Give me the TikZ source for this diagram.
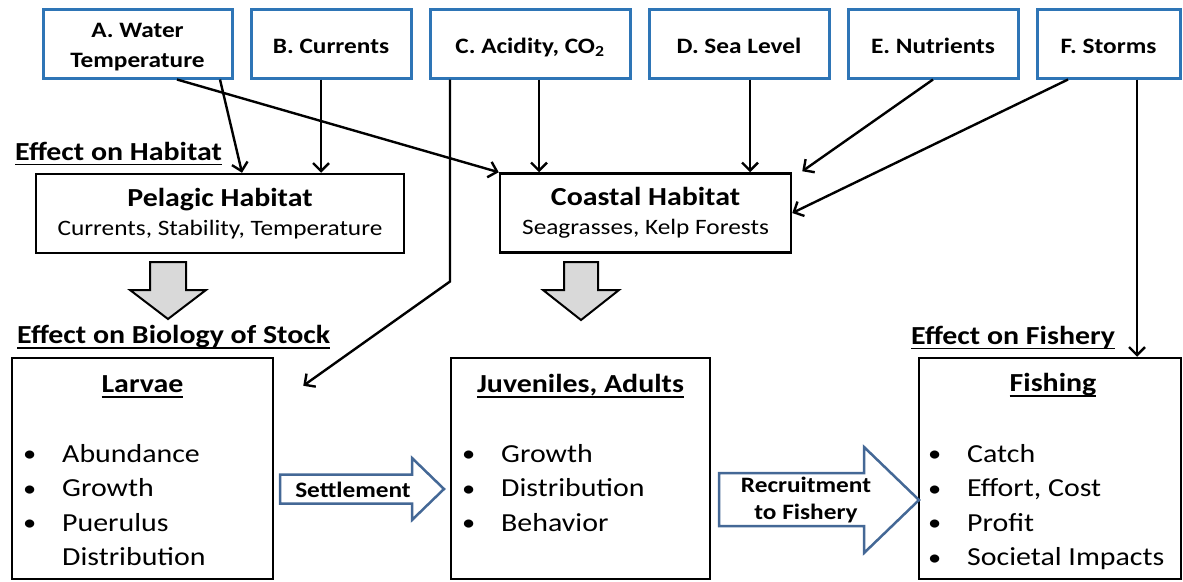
\documentclass[tikz,border=0pt]{standalone}
\usepackage{fontspec}
\setmainfont{Carlito}[FakeStretch=1.15]
\usetikzlibrary{arrows.meta, positioning, calc}
\definecolor{factorblue}{RGB}{46,117,182}
\definecolor{flowblue}{RGB}{68,104,150}
\definecolor{blockgray}{RGB}{217,217,217}
\newsavebox{\hdbox}
\newcommand{\hdline}[1]{\sbox{\hdbox}{#1}\rlap{\rule[-5.4pt]{\wd\hdbox}{1.8pt}}\usebox{\hdbox}}
\newcommand{\bul}{\makebox[39pt][l]{\raisebox{0.5pt}{\fontsize{23}{23}\selectfont\textbullet}}}
\tikzset{
  factor/.style={
    rectangle, draw=factorblue, line width=3pt, fill=white,
    minimum height=69pt, inner sep=0pt,
    align=center, font=\bfseries\fontsize{22}{30}\selectfont
  },
  oneline/.style={text height=19pt, text depth=0pt},
  habitat/.style={
    rectangle, draw=black, line width=2.5pt,
    minimum height=79pt, inner sep=0pt,
    align=center, font=\fontsize{22}{29}\selectfont
  },
  stage/.style={
    rectangle, draw=black, line width=2.5pt,
    minimum height=221pt, inner sep=0pt
  },
  sechead/.style={inner sep=0pt, anchor=base west, font=\bfseries\fontsize{26}{31}\selectfont},
  stagehead/.style={inner sep=0pt, anchor=base, font=\bfseries\fontsize{26}{31}\selectfont},
  itemlist/.style={inner sep=0pt, anchor=base west, font=\fontsize{26}{34.5}\selectfont},
  link/.style={line width=2.4pt, -{Straight Barb[length=8pt,width=16pt]}},
  blockdown/.style={draw=black, line width=2pt, fill=blockgray},
  flowarrow/.style={draw=flowblue, line width=2.5pt, fill=white},
  flowlabel/.style={inner sep=0pt, align=center, font=\bfseries\fontsize{22}{27}\selectfont}
}

\begin{document}
\begin{tikzpicture}[x=1pt, y=-1pt, node distance=16pt]
\useasboundingbox (0,0) rectangle (1183,581);

\node[factor, minimum width=189pt] (wtemp) at (137.5,43.5) {\rule{0pt}{22pt}A. Water\\Temperature};
\node[factor, oneline, minimum width=160pt, right=of wtemp] (curr) {B. Currents};
\node[factor, oneline, minimum width=200pt, right=of curr] (acid) {C. Acidity, CO\textsubscript{2}};
\node[factor, oneline, minimum width=180pt, right=of acid] (sealvl) {D. Sea Level};
\node[factor, oneline, minimum width=170pt, right=of sealvl] (nutr) {E. Nutrients};
\node[factor, oneline, minimum width=143pt, right=of nutr] (storms) {F. Storms};

\node[sechead] (habhd) at (15,160) {\hdline{Effect on Habitat}};
\node[habitat, minimum width=368pt] (pelagic) at (220,213.5)
  {{\bfseries\fontsize{26}{29}\selectfont Pelagic Habitat}\\Currents, Stability, Temperature};
\node[habitat, minimum width=291pt] (coastal) at (645.5,213)
  {{\bfseries\fontsize{26}{29}\selectfont Coastal Habitat}\\Seagrasses, Kelp Forests};

\draw[blockdown] (150,262) -- (186,262) -- (186,290) -- (206,290) -- (168,319)
  -- (130,290) -- (150,290) -- cycle;
\draw[blockdown] (564,262) -- (598,262) -- (598,290) -- (619,290) -- (581,320)
  -- (543,290) -- (564,290) -- cycle;

\node[sechead] (biohd) at (17,343.5) {\hdline{Effect on Biology of Stock}};
\node[sechead] (fishhd) at (911,344) {\hdline{Effect on Fishery}};

\node[stage, minimum width=261pt] (larvae) at (142.5,468.5) {};
\node[stage, minimum width=259pt] (juv) at (580.5,468.5) {};
\node[stage, minimum width=262pt] (fishing) at (1050,468.5) {};

\node[stagehead] (larvaehd) at ([shift={(0,35.5)}]larvae.north) {\hdline{Larvae}};
\node[stagehead] (juvhd) at ([shift={(0,35.5)}]juv.north) {\hdline{Juveniles, Adults}};
\node[stagehead] (fishinghd) at ([shift={(3,35)}]fishing.north) {\hdline{Fishing}};

\node[itemlist] (larvaelist) at (23,462) {\begin{tabular}[t]{@{}l@{}}
  \bul Abundance\\ \bul Growth\\ \bul Puerulus\\ \hspace*{39pt}Distribution\end{tabular}};
\node[itemlist] (juvlist) at (462,462) {\begin{tabular}[t]{@{}l@{}}
  \bul Growth\\ \bul Distribution\\ \bul Behavior\end{tabular}};
\node[itemlist] (fishinglist) at (928,462) {\begin{tabular}[t]{@{}l@{}}
  \bul Catch\\ \bul Effort, Cost\\ \bul Profit\\ \bul Societal Impacts\end{tabular}};

\draw[flowarrow] (280,474.5) -- (412,474.5) -- (412,458) -- (444,489) -- (412,520)
  -- (412,503.5) -- (280,503.5) -- cycle;
\node[flowlabel] (settle) at (353,490) {Settlement};
\draw[flowarrow] (719,473) -- (864,473) -- (864,447) -- (919,500) -- (864,553)
  -- (864,526) -- (719,526) -- cycle;
\node[flowlabel] (recruit) at (806,500.5) {Recruitment\\to Fishery};

\draw[link] ([xshift=82.5pt]wtemp.south) -- ([xshift=22pt]pelagic.north);
\draw[link] ([xshift=39.5pt]wtemp.south) -- (coastal.north west);
\draw[link] ([xshift=-10pt]curr.south) -- ([xshift=-10pt]curr.south |- pelagic.north);
\draw[link] ([xshift=9pt]acid.south) -- ([xshift=9pt]acid.south |- coastal.north);
\draw[link] ([xshift=-80pt]acid.south) -- ++(0,202) -- ([shift={(29,29)}]larvae.north east);
\draw[link] ([xshift=11pt]sealvl.south) -- ([xshift=11pt]sealvl.south |- coastal.north);
\draw[link] (nutr.south) -- ([shift={(10,-1)}]coastal.north east);
\draw[link] ([xshift=-40.5pt]storms.south) -- (coastal.east);
\draw[link] ([xshift=28.5pt]storms.south) -- ([xshift=28.5pt]storms.south |- fishing.north);

\end{tikzpicture}
\end{document}
